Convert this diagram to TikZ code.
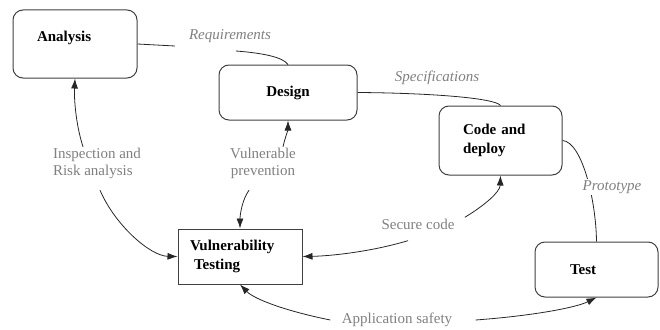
\documentclass[tikz,border=0pt]{standalone}
\usepackage{fontspec}
\setmainfont{Liberation Serif}
\usetikzlibrary{arrows.meta}
\tikzset{
  stage/.style={draw=black!75, line width=1pt, rounded corners=10pt, align=left,
    inner ysep=0pt, font=\fontsize{15}{19}\selectfont\bfseries},
  note/.style={text=black!50, align=left, inner sep=1pt, font=\fontsize{15}{17}\selectfont},
  flow/.style={-{Latex[length=10pt,width=7pt]}},
}
\begin{document}
\begin{tikzpicture}[x=1pt, y=-1pt, line width=0.8pt, draw=black!85]
\useasboundingbox (0,0) rectangle (660,329);

\node[stage, text width=76pt, inner xsep=24pt, minimum height=68pt] (analysis) at (75,44) {\raisebox{6pt}[\height][\depth]{Analysis}};
\node[stage, text width=90pt, inner xsep=24pt, minimum height=55pt, align=center] (design) at (288,92.5) {Design};
\node[stage, text width=75pt, inner xsep=24pt, minimum height=69pt] (code) at (500.5,140.5) {Code and\\deploy};
\node[stage, text width=53pt, inner xsep=35pt, minimum height=55pt] (test) at (596.5,269.5) {Test};
\node[stage, rounded corners=0pt, text width=100pt, inner xsep=12pt, minimum height=55pt] (vt) at (240,256.5) {Vulnerability\\\hspace{4pt}Testing};

%%%%%%%%%%%%%%%%%%%%%%%%%%%%%%%%%%%%%%%%

\node[note, font=\fontsize{15}{17}\selectfont\itshape] (req) at (230,36) {Requirements};
\node[note, font=\fontsize{15}{17}\selectfont\itshape] (spec) at (437,78) {Specifications};
\node[note] (insp) at (97,163.5) {Inspection and\\Risk analysis};
\node[note, align=center] (prev) at (263,163.5) {Vulnerable\\prevention};
\node[note] (secure) at (418,224) {Secure code};
\node[note] (safety) at (397,320) {Application safety};

\coordinate (req-in) at (175,46);
\coordinate (req-out) at (236,51);
\draw (analysis.east) -- (req-in);
\draw (req-out) .. controls (262,53) and (283,57) .. (design.north);
\draw (design.east) .. controls (430,93) and (495,98) .. (code.north);
\draw (code.east) .. controls (582,142) and (596,200) .. (test.north);
\node[note, fill=white, font=\fontsize{15}{17}\selectfont\itshape] (proto) at (612,187) {Prototype};

\draw[flow] ([xshift=-14pt]insp.north) .. controls (76,125) and (74,100) .. (analysis.south);
\draw[flow] ([shift={(3,10)}]insp.south) .. controls (115,225) and (150,256) .. (vt.west);
\draw[flow] ([xshift=20pt]prev.north) .. controls (285,138) and (288,130) .. (design.south);
\draw[flow] ([shift={(-14,10)}]prev.south) .. controls (242,200) and (240,215) .. (vt.north);
\draw[flow] ([xshift=9pt]secure.north east) .. controls (485,205) and (500,192) .. (code.south);
\draw[flow] ([shift={(-10,10)}]secure.south) .. controls (370,252) and (330,256) .. (vt.east);
\draw[flow] ([xshift=-10pt]safety.west) .. controls (290,312) and (255,300) .. (vt.south);
\draw[flow] ([xshift=22pt]safety.east) .. controls (530,316) and (575,308) .. (test.south);

\end{tikzpicture}
\end{document}
